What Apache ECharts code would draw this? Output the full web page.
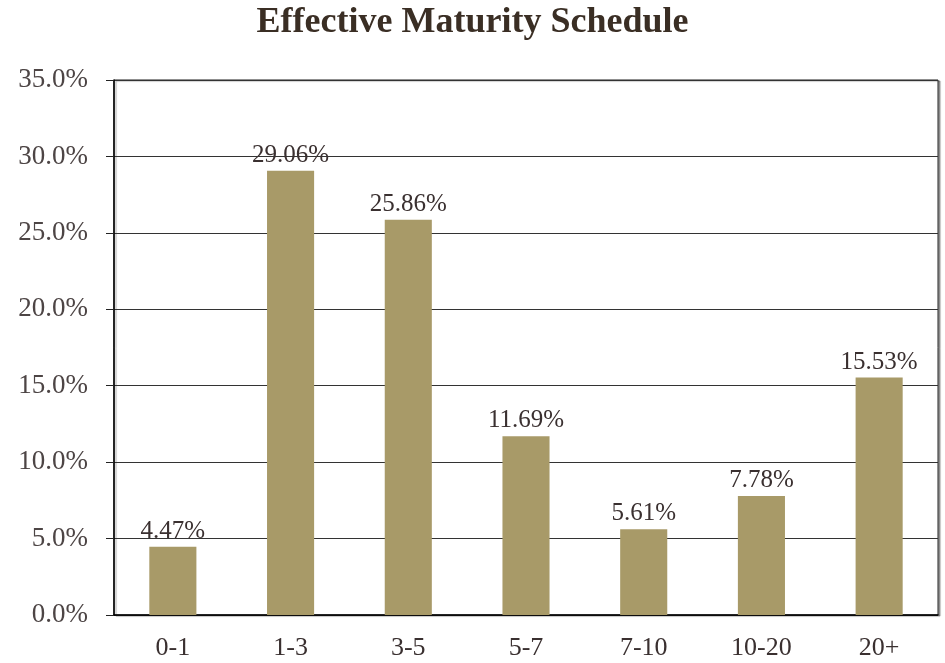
<!DOCTYPE html>
<html>
<head>
<meta charset="utf-8">
<script src="https://cdn.jsdelivr.net/npm/echarts@6/dist/echarts.min.js"></script>
<style>
  html, body { margin: 0; padding: 0; background: #fff; }
  #main { width: 945px; height: 663px; }
</style>
</head>
<body>
<div id="main"></div>
<script>
// data
var categories = ['0-1', '1-3', '3-5', '5-7', '7-10', '10-20', '20+'];
var weights = [4.47, 29.06, 25.86, 11.69, 5.61, 7.78, 15.53];

var serif = '"Liberation Serif", "DejaVu Serif", serif';
var echart = echarts.init(document.getElementById('main'));
var option = {
    animation: false,
    title: {
        text: 'Effective Maturity Schedule',
        left: 'center',
        top: 0,
        textStyle: {
            fontFamily: serif,
            fontWeight: 'bold',
            fontSize: 36,
            color: '#3a2e24'
        }
    },
    grid: {
        left: 114,
        right: 7,
        top: 80,
        bottom: 48,
        show: true,
        borderColor: '#222',
        borderWidth: 1,
        shadowColor: 'rgba(0,0,0,0.35)',
        shadowOffsetX: 2,
        shadowOffsetY: 1,
        shadowBlur: 1,
        backgroundColor: '#fff'
    },
    xAxis: {
        type: 'category',
        data: categories,
        axisLine: { lineStyle: { color: '#000', width: 1.5 } },
        axisTick: { show: false },
        axisLabel: {
            fontFamily: serif,
            fontSize: 26,
            color: '#3a3030',
            margin: 20
        }
    },
    yAxis: {
        type: 'value',
        min: 0,
        max: 35,
        interval: 5,
        axisLine: { show: true, lineStyle: { color: '#000', width: 1.5 } },
        axisTick: { show: true, length: 8, lineStyle: { color: '#222' } },
        splitLine: { lineStyle: { color: '#333', width: 1 } },
        axisLabel: {
            fontFamily: serif,
            fontSize: 27,
            color: '#4d4545',
            margin: 26,
            formatter: function (v) { return v.toFixed(1) + '%'; }
        }
    },
    series: [{
        type: 'bar',
        data: weights,
        barWidth: '40%',
        itemStyle: { color: '#a89a68' },
        label: {
            show: true,
            position: 'top',
            distance: 3,
            fontFamily: serif,
            fontSize: 25,
            color: '#3a3030',
            formatter: function (p) { return p.value.toFixed(2) + '%'; }
        }
    }]
};
echart.setOption(option);
</script>
</body>
</html>
